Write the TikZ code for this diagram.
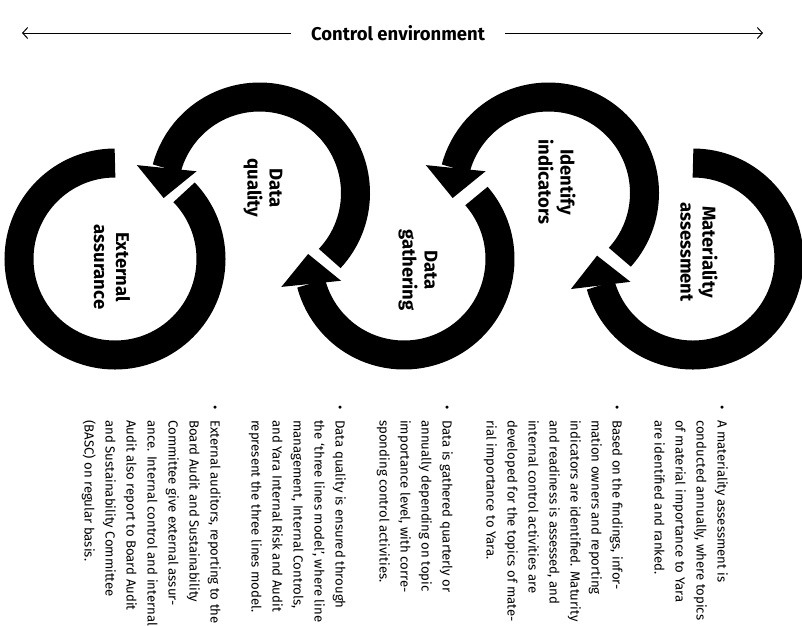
\documentclass[tikz,border=0pt]{standalone}
\usepackage{fontspec}
\setmainfont{Fira Sans}
\usepackage{tikz}
\usetikzlibrary{arrows.meta,bending,calc}
\definecolor{inkblack}{HTML}{000000}
\tikzset{
  ring/.style={line width=29pt,draw=inkblack},
  ringarrow/.style={ring,-{Triangle[length=30pt 0 0,width=60pt 0 0,line width=0pt 0 0,flex]}},
  steplabel/.style={rotate=-90,align=center,inner sep=0pt,font=\fontsize{18.5}{22}\selectfont\bfseries},
  notetext/.style={rotate=-90,anchor=north west,align=left,inner sep=0pt,font=\fontsize{13.2}{21}\selectfont},
  heading/.style={inner xsep=20pt,font=\fontsize{18.5}{20}\selectfont\bfseries},
  envarrow/.style={-{Straight Barb[length=5pt,width=11pt]},line width=1pt,draw=inkblack}
}
\newcommand{\itembullet}{\llap{\textbullet\hspace{10pt}}}

\begin{document}
\begin{tikzpicture}[x=1pt,y=1pt]
\useasboundingbox (0,0) rectangle (802,-625);
\node[heading] (title) at (398,-33) {Control environment};
\coordinate (envl) at (22,-33);
\coordinate (envr) at (763,-33);
\draw[envarrow] (title) -- (envl);
\draw[envarrow] (title) -- (envr);

\coordinate (matc) at (693,-259);
\coordinate (indc) at (548.5,-193);
\coordinate (gatc) at (404,-259);
\coordinate (quac) at (259.5,-193);
\coordinate (extc) at (115,-259);

\draw[ringarrow] ($(matc)+(90:96)$) arc[start angle=90,end angle=-182,radius=96];
\draw[ringarrow] ($(indc)+(-42:96)$) arc[start angle=-42,end angle=183,radius=96];
\draw[ringarrow] ($(gatc)+(41:96)$) arc[start angle=41,end angle=-183,radius=96];
\draw[ringarrow] ($(quac)+(-43:96)$) arc[start angle=-43,end angle=183,radius=96];
\draw[ring] ($(extc)+(90:96)$) arc[start angle=90,end angle=404,radius=96];

\node[steplabel] (mat) at (699,-252) {Materiality\\assessment};
\node[steplabel] (ind) at (557,-182) {Identify\\indicators};
\node[steplabel] (gat) at (418,-270) {Data\\gathering};
\node[steplabel] (qua) at (263,-188) {Data\\quality};
\node[steplabel] (ext) at (112,-267) {External\\assurance};

\node[notetext] (matnote) at (728,-420) {\itembullet A materiality assessment is\\
conducted annually, where topics\\
of material importance to Yara\\
are identified and ranked.};
\node[notetext] (indnote) at (623,-420) {\itembullet Based on the findings, infor-\\
mation owners and reporting\\
indicators are identified. Maturity\\
and readiness is assessed, and\\
internal control activities are\\
developed for the topics of mate-\\
rial importance to Yara.};
\node[notetext] (gatnote) at (453,-420) {\itembullet Data is gathered quarterly or\\
annually depending on topic\\
importance level, with corre-\\
sponding control activities.};
\node[notetext] (quanote) at (346,-420) {\itembullet Data quality is ensured through\\
the `three lines model', where line\\
management, Internal Controls,\\
and Yara Internal Risk and Audit\\
represent the three lines model.};
\node[notetext] (extnote) at (221,-420) {\itembullet External auditors, reporting to the\\
Board Audit and Sustainability\\
Committee give external assur-\\
ance. Internal control and internal\\
Audit also report to Board Audit\\
and Sustainability Committee\\
(BASC) on regular basis.};
\end{tikzpicture}
\end{document}
